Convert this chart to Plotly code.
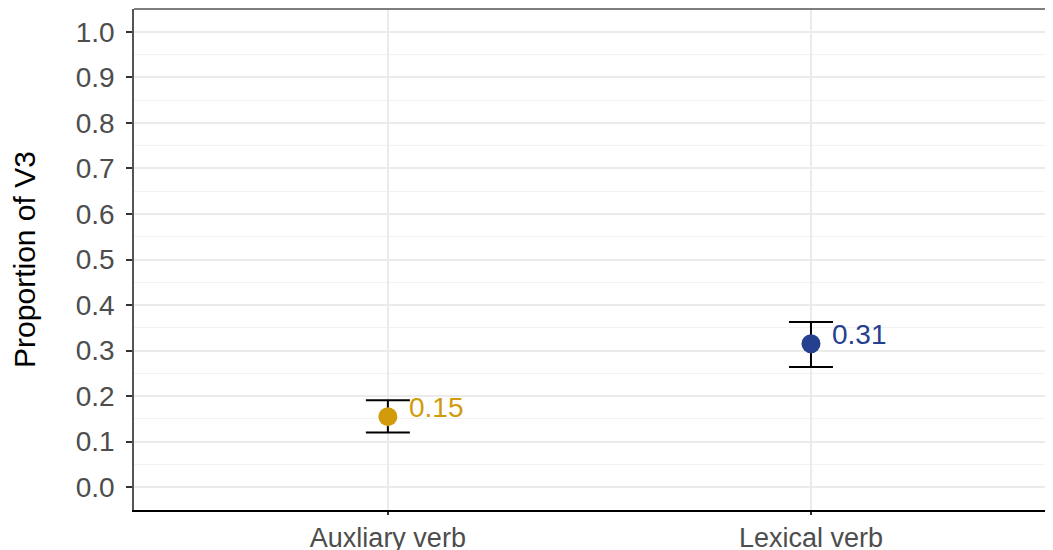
import plotly.graph_objects as go

# values
categories = ["Auxliary verb", "Lexical verb"]
proportions = [0.155, 0.315]
ci_upper = [0.191, 0.363]
ci_lower = [0.120, 0.264]
point_labels = ["0.15", "0.31"]
point_colors = ["#D19B0B", "#24408E"]
y_ticks = [0.0, 0.1, 0.2, 0.3, 0.4, 0.5, 0.6, 0.7, 0.8, 0.9, 1.0]

FONT = "Liberation Sans, Arial, sans-serif"
TICK_GREY = "#4D4D4D"
GRID = "#EBEBEB"
PAGE_PAD = 8  # default body margin of the html page

x_pos = list(range(len(categories)))
err_plus = [u - p for u, p in zip(ci_upper, proportions)]
err_minus = [p - l for p, l in zip(proportions, ci_lower)]

fig = go.Figure()

# error bars drawn first so the points sit on top
fig.add_trace(
    go.Scatter(
        x=x_pos, y=proportions, mode="markers",
        marker=dict(size=1, color="rgba(0,0,0,0)"),
        error_y=dict(
            type="data", symmetric=False,
            array=err_plus, arrayminus=err_minus,
            color="black", thickness=2, width=22,
        ),
        showlegend=False, hoverinfo="skip",
    )
)
fig.add_trace(
    go.Scatter(
        x=x_pos, y=proportions, mode="markers",
        marker=dict(size=19, color=point_colors, line=dict(width=0)),
        showlegend=False,
        hovertemplate="%{y:.2f}<extra></extra>",
    )
)

for xp, yp, lab, col in zip(x_pos, proportions, point_labels, point_colors):
    fig.add_annotation(
        x=xp, y=yp, text=lab, showarrow=False,
        xanchor="left", yanchor="middle",
        xshift=19, yshift=9,
        font=dict(family=FONT, size=28, color=col),
    )

# top panel border (grey), bottom axis stays black
fig.add_shape(
    type="line", xref="paper", yref="paper",
    x0=0, x1=1, y0=1, y1=1,
    line=dict(color="#555555", width=1.5),
)

fig.update_layout(
    width=1053 - PAGE_PAD, height=550 - PAGE_PAD,
    margin=dict(l=134 - PAGE_PAD, r=0, t=9 - PAGE_PAD, b=40, autoexpand=False),
    plot_bgcolor="white", paper_bgcolor="white",
    font=dict(family=FONT, color=TICK_GREY),
    xaxis=dict(
        range=[-0.6, 1.572],
        tickvals=x_pos, ticktext=categories,
        tickfont=dict(size=27, color=TICK_GREY),
        showgrid=True, gridcolor=GRID, gridwidth=2,
        zeroline=False, automargin=False,
        showline=True, linecolor="black", linewidth=2,
        ticks="outside", ticklen=3, tickwidth=1.5, tickcolor="#333333",
        ticklabelstandoff=0,
    ),
    yaxis=dict(
        range=[-0.05, 1.05],
        tickvals=y_ticks, tickformat=".1f",
        tickfont=dict(size=28, color=TICK_GREY),
        showgrid=True, gridcolor=GRID, gridwidth=2,
        minor=dict(dtick=0.05, tick0=0, showgrid=True, gridcolor="#F2F2F2", gridwidth=1),
        zeroline=False, automargin=False,
        showline=True, linecolor="#555555", linewidth=1.5,
        ticks="outside", ticklen=6, tickwidth=1.5, tickcolor="#333333",
        ticklabelstandoff=6,
        title=dict(text="Proportion of V3", font=dict(size=30, color="black"), standoff=38),
    ),
)

fig.write_html("out.html")
